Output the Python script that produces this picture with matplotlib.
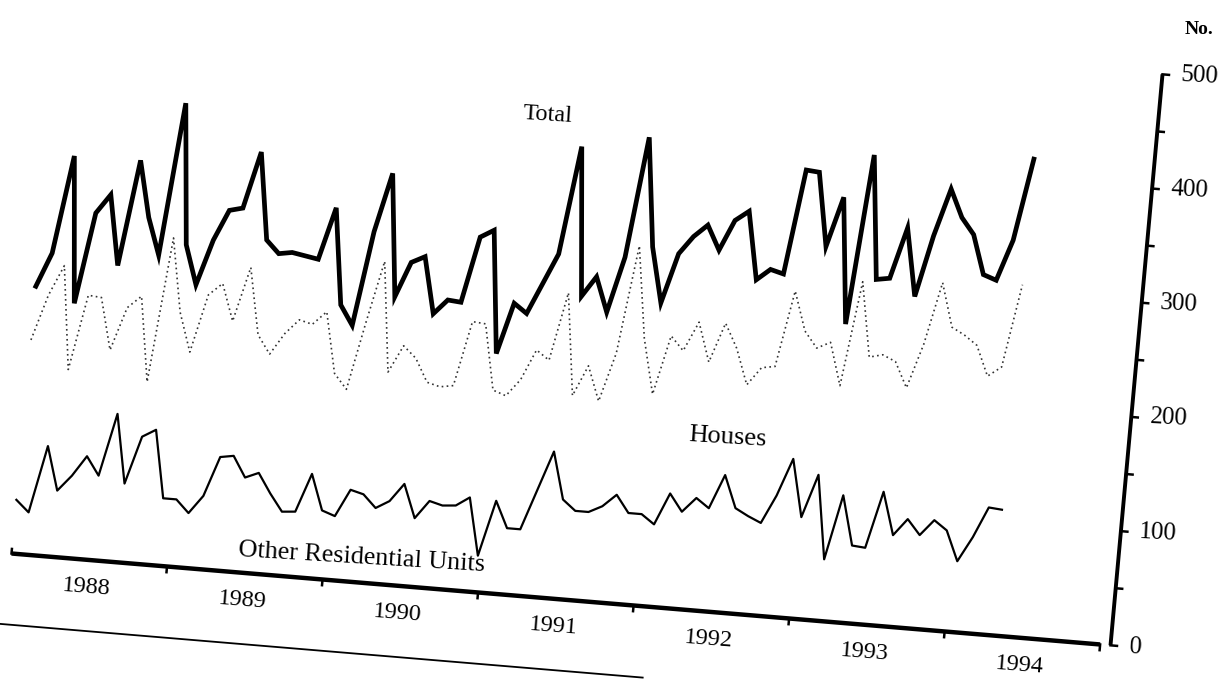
import numpy as np
import matplotlib
matplotlib.use('Agg')
import matplotlib.pyplot as plt
from matplotlib.transforms import Affine2D

# monthly approvals, Jan 1988 .. Mar 1994
total = [234, 264, 350, 222, 302, 319, 258, 351, 302, 270, 404, 281, 247, 287, 314,
         317, 367, 291, 280, 282, 280, 278, 324, 240, 223, 306, 358, 251, 282, 288,
         239, 252, 251, 309, 316, 209, 254, 246, 273, 300, 395, 265, 283, 253, 302,
         408, 313, 265, 309, 325, 336, 315, 342, 351, 292, 302, 299, 391, 390, 326,
         370, 260, 409, 301, 303, 348, 289, 343, 385, 361, 347, 313, 309, 345, 417]
houses = [187, 227, 254, 164, 230, 229, 184, 222, 233, 159, 286, 222, 188, 239, 250,
          218, 266, 208, 192, 211, 224, 221, 233, 180, 167, 226, 281, 185, 209, 199,
          179, 176, 178, 235, 234, 177, 173, 188, 215, 207, 267, 178, 205, 175, 218,
          313, 233, 185, 237, 225, 251, 217, 252, 231, 200, 216, 218, 285, 251, 237,
          243, 206, 298, 233, 236, 231, 209, 248, 303, 265, 259, 251, 225, 234, 307]
other = [47, 37, 96, 58, 72, 90, 74, 129, 69, 111, 118, 59, 59, 48, 64,
         99, 101, 83, 88, 71, 56, 57, 91, 60, 56, 80, 77, 66, 73, 89,
         60, 76, 73, 74, 82, 32, 81, 58, 58, 93, 128, 87, 78, 78, 84,
         95, 80, 80, 72, 100, 85, 98, 90, 120, 92, 86, 81, 106, 139, 89,
         127, 54, 111, 68, 67, 117, 80, 95, 82, 96, 88, 62, 84, 111, 110]
years = ['1988', '1989', '1990', '1991', '1992', '1993', '1994']
y_labels = [0, 100, 200, 300, 400, 500]

serif = ['Liberation Serif', 'DejaVu Serif']

fig = plt.figure(figsize=(12.23, 6.79), dpi=100)
ax = fig.add_axes([0, 0, 1, 1])
ax.set_xlim(0, 1223)
ax.set_ylim(679, 0)
ax.axis('off')

# the page was scanned crooked, so the chart sits in a skewed frame
origin = (11.5, 553.5)
unit = (0.104, -1.142)        # one approval
axis_month = (12.96, 1.083)   # one month along the printed time axis
data_month = (13.23, 1.106)   # one month as the series were printed


def frame(step):
    m = np.array([[step[0], unit[0], origin[0]],
                  [step[1], unit[1], origin[1]],
                  [0, 0, 1]])
    return Affine2D(m) + ax.transData


axis_tr = frame(axis_month)
data_tr = frame(data_month)

months = np.arange(len(total))
ax.plot(months, total, color='black', lw=3.4, solid_joinstyle='miter', transform=data_tr)
ax.plot(months, houses, color='#333333', lw=1.2, ls=(0, (1, 2)), transform=data_tr)
ax.plot(months, other, color='black', lw=1.6, transform=data_tr)

ax.text(37.2, 420, 'Total', transform=data_tr, family=serif, fontsize=17.5,
        rotation=-3.5, ha='center', va='center')
ax.text(52.9, 153, 'Houses', transform=data_tr, family=serif, fontsize=19,
        rotation=-3.5, ha='center', va='center')
ax.text(26.3, 22, 'Other Residential Units', transform=data_tr, family=serif,
        fontsize=18.8, rotation=-3.5, ha='center', va='center')

# time axis
ax.plot([0, 84], [0, 0], color='black', lw=3.2, solid_capstyle='butt', transform=axis_tr)
ax.plot([0, 0], [0, 4], color='black', lw=1.8, transform=axis_tr)
for t in range(12, 85, 12):
    ax.plot([t, t], [0, -5], color='black', lw=1.8, transform=axis_tr)
for i, yr in enumerate(years):
    ax.text(6 + 12 * i, -24, yr, transform=axis_tr, family=serif, fontsize=17.5,
            rotation=-4.5, ha='center', va='center')

# value axis on the right
ya = 84.8
ax.plot([ya, ya], [0, 500], color='black', lw=2.8, solid_capstyle='butt', transform=axis_tr)
for v in range(0, 501, 50):
    ax.plot([ya, ya + 0.5], [v, v], color='black', lw=1.8, transform=axis_tr)
for v in y_labels:
    ax.text(ya + 1.4, v, str(v), transform=axis_tr, family=serif, fontsize=18,
            rotation=-3, ha='left', va='center')
ax.text(1199, 30, 'No.', family=serif, fontsize=14, fontweight='bold',
        ha='center', va='center')

# stray edge of the copied page
ax.plot([-0.5, 49.2], [-62, -62], color='black', lw=1.3, transform=axis_tr)

fig.savefig('out.png', dpi=100)
